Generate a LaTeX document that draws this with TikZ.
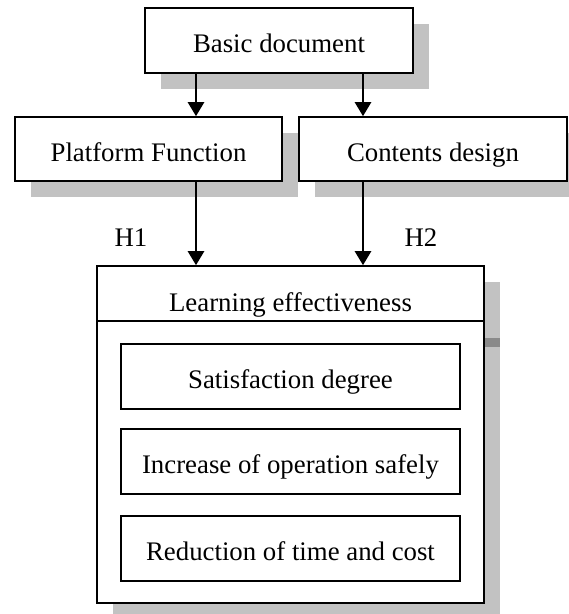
\documentclass[tikz,border=0pt]{standalone}
\usepackage{fontspec}
\setmainfont{Liberation Serif}
\usetikzlibrary{arrows.meta,shadows}
\definecolor{shadowgray}{HTML}{C2C2C2}
\definecolor{bandgray}{HTML}{8A8A8A}
\begin{document}
\begin{tikzpicture}[x=1pt,y=-1pt,
  every node/.style={font=\fontsize{26.8}{31}\selectfont, text height=24pt, text depth=0pt},
  box/.style={draw, line width=1.6pt, fill=white, rectangle, inner sep=0pt},
  shadowbox/.style={box, drop shadow={shadow xshift=16pt, shadow yshift=-16pt, fill=shadowgray, opacity=1}},
  flow/.style={line width=2.6pt, -{Triangle[length=14pt,width=16pt]}}]
\useasboundingbox (0,0) rectangle (569,614);

% top-level boxes
\node[shadowbox, minimum width=268pt, minimum height=65pt] (basic) at (279,40.5) {Basic document};
\node[shadowbox, minimum width=267pt, minimum height=64pt] (platform) at (148.5,149) {Platform Function};
\node[shadowbox, minimum width=268pt, minimum height=64pt] (contents) at (433,149) {Contents design};

% outcome frame
\node[shadowbox, minimum width=387pt, minimum height=337pt] (frame) at (290.5,434.5) {};
\fill[bandgray] (frame.north east |- 0,338) rectangle (500,347);
\draw[line width=1.6pt] (frame.west |- 0,321) -- (frame.east |- 0,321);
\node (title) at (290.5,299.5) {Learning effectiveness};

% measures
\node[box, minimum width=339pt, minimum height=65pt] (sat) at (290.5,376.5) {Satisfaction degree};
\node[box, minimum width=339pt, minimum height=65pt] (safe) at (290.5,461.5) {Increase of operation safely};
\node[box, minimum width=339pt, minimum height=65pt] (cost) at (290.5,548.5) {Reduction of time and cost};

% arrow columns
\coordinate (cl) at (196,0);
\coordinate (cr) at (363,0);
\draw[flow] (basic.south -| cl) -- (platform.north -| cl);
\draw[flow] (basic.south -| cr) -- (contents.north -| cr);
\draw[flow] (platform.south -| cl) -- (frame.north -| cl);
\draw[flow] (contents.south -| cr) -- (frame.north -| cr);

% hypothesis labels
\node (h1) at (131,234.5) {H1};
\node (h2) at (421,234.5) {H2};
\end{tikzpicture}
\end{document}
